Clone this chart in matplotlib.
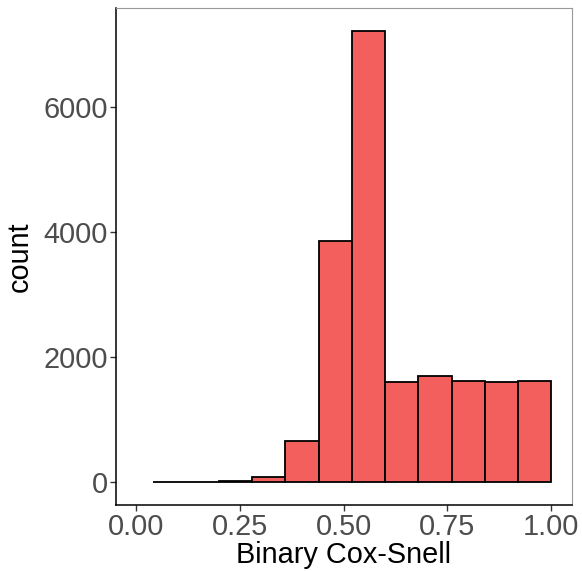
import numpy as np
import matplotlib
matplotlib.use("Agg")
import matplotlib.pyplot as plt

# histogram bins (width 0.08) and counts
bin_edges = [0.04, 0.12, 0.20, 0.28, 0.36, 0.44, 0.52, 0.60, 0.68, 0.76, 0.84, 0.92, 1.00]
counts = [2, 5, 20, 85, 660, 3860, 7225, 1605, 1695, 1615, 1600, 1620]
x_ticks = [0.00, 0.25, 0.50, 0.75, 1.00]
x_ticklabels = ["0.00", "0.25", "0.50", "0.75", "1.00"]
y_ticks = [0, 2000, 4000, 6000]

plt.rcParams['font.family'] = ['Liberation Sans', 'DejaVu Sans']

fig = plt.figure(figsize=(5.82, 5.71), dpi=100)
ax = fig.add_axes([0.1993, 0.1156, 0.7835, 0.8704])

ax.hist(bin_edges[:-1], bins=bin_edges, weights=counts,
        color='#F35F5C', edgecolor='black', linewidth=1.3)

# ggplot-like expansion
ax.set_xlim(-0.048, 1.05)
ymax = max(counts)
ax.set_ylim(-0.05 * ymax, 1.05 * ymax)

ax.set_xticks(x_ticks)
ax.set_xticklabels(x_ticklabels)
ax.set_yticks(y_ticks)

ax.tick_params(axis='both', labelsize=20.8, colors='#4D4D4D', length=4, width=1, pad=2)
ax.tick_params(axis='both', color='#333333')

for side in ['top', 'right']:
    ax.spines[side].set_color('#999999')
    ax.spines[side].set_linewidth(0.8)
for side in ['left', 'bottom']:
    ax.spines[side].set_color('black')
    ax.spines[side].set_linewidth(1.1)

ax.set_xlabel("Binary Cox-Snell", fontsize=20.8, color='black', labelpad=0)
ax.set_ylabel("count", fontsize=20.8, color='black', labelpad=7)

fig.savefig("out.png", dpi=100)
